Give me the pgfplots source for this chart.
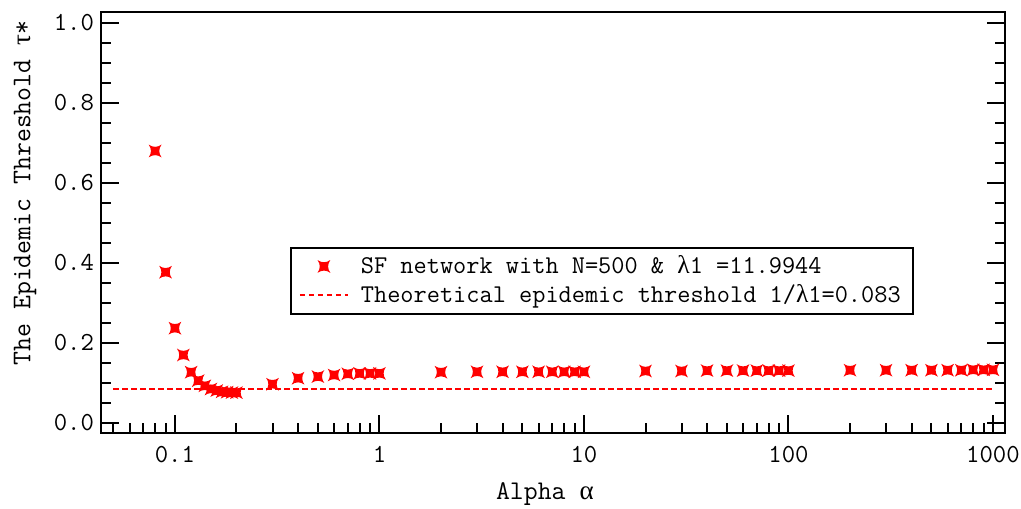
\documentclass[border=0pt]{standalone}
\usepackage{fontspec}
\renewcommand{\familydefault}{\ttdefault}
\newfontfamily\gr{Liberation Serif}
\usepackage{pgfplots}
\pgfplotsset{compat=1.18}
\definecolor{myred}{RGB}{255,0,0}
\pgfdeclareplotmark{cstar}{%
  \pgfpathmoveto{\pgfqpoint{\pgfplotmarksize}{\pgfplotmarksize}}%
  \pgfpathquadraticcurveto{\pgfqpoint{0.3\pgfplotmarksize}{0pt}}{\pgfqpoint{\pgfplotmarksize}{-\pgfplotmarksize}}%
  \pgfpathquadraticcurveto{\pgfqpoint{0pt}{-0.3\pgfplotmarksize}}{\pgfqpoint{-\pgfplotmarksize}{-\pgfplotmarksize}}%
  \pgfpathquadraticcurveto{\pgfqpoint{-0.3\pgfplotmarksize}{0pt}}{\pgfqpoint{-\pgfplotmarksize}{\pgfplotmarksize}}%
  \pgfpathquadraticcurveto{\pgfqpoint{0pt}{0.3\pgfplotmarksize}}{\pgfqpoint{\pgfplotmarksize}{\pgfplotmarksize}}%
  \pgfpathclose
  \pgfusepathqfill
}
\pgfplotsset{
  starleg/.style={legend image code/.code={\path[fill=myred] plot[mark=cstar, mark size=3.2pt, only marks, mark options={fill=myred}] coordinates {(12pt,0pt)};}},
  dashleg/.style={legend image code/.code={\draw[myred, line width=1pt, dash pattern=on 2.75pt off 1.75pt] (0pt,0pt) -- (24pt,0pt);}},
}
\begin{document}
\begin{tikzpicture}
\begin{axis}[
  name=ax,
  at={(0,0)}, anchor=south west,
  xmode=log,
  scale only axis,
  width=452pt, height=210.5pt,
  xmin=0.0435, xmax=1145,
  ymin=-0.025, ymax=1.0275,
  axis line style={line width=1.2pt},
  every tick/.style={line width=1pt, black},
  tick align=inside,
  major tick length=9pt,
  minor tick length=5pt,
  xtick pos=bottom,
  ytick pos=both,
  xtick={0.1,1,10,100,1000},
  xticklabels={0.1,1,10,100,1000},
  minor xtick={0.05,0.06,0.07,0.08,0.09,0.2,0.3,0.4,0.5,0.6,0.7,0.8,0.9,2,3,4,5,6,7,8,9,20,30,40,50,60,70,80,90,200,300,400,500,600,700,800,900},
  ytick={0,0.2,0.4,0.6,0.8,1.0},
  minor ytick={0.05,0.1,0.15,0.25,0.3,0.35,0.45,0.5,0.55,0.65,0.7,0.75,0.85,0.9,0.95},
  yticklabel style={/pgf/number format/.cd, fixed, fixed zerofill, precision=1, assume math mode=true},
  xticklabel style={/pgf/number format/assume math mode=true, yshift=-3pt},
  ticklabel style={font=\fontsize{13}{15}\selectfont},
  xlabel={Alpha {\gr α}},
  ylabel={The Epidemic Threshold {\gr τ}*},
  label style={font=\fontsize{13.5}{15}\selectfont},
  xlabel style={at={(axis description cs:0.491,-0.145)}, anchor=center},
  ylabel style={at={(axis description cs:-0.084,0.57)}, anchor=center},
  legend style={at={(axis description cs:0.209,0.442)}, anchor=north west,
    draw=black, line width=1pt, font=\fontsize{12.8}{14}\selectfont,
    inner xsep=4pt, inner ysep=2pt, row sep=0pt, column sep=4pt},
  legend cell align=left,
]
\addplot[only marks, mark=cstar, mark size=3.2pt, color=myred, starleg]
coordinates {
(0.08,0.680) (0.09,0.377) (0.1,0.237) (0.11,0.170) (0.12,0.127)
(0.13,0.106) (0.14,0.093) (0.15,0.085) (0.16,0.081) (0.17,0.078)
(0.18,0.077) (0.19,0.076) (0.2,0.076)
(0.3,0.097) (0.4,0.112) (0.5,0.116) (0.6,0.120) (0.7,0.123)
(0.8,0.124) (0.9,0.124) (1,0.124)
(2,0.127) (3,0.128) (4,0.128) (5,0.128) (6,0.128) (7,0.128) (8,0.128) (9,0.128) (10,0.128)
(20,0.130) (30,0.130) (40,0.131) (50,0.131) (60,0.131) (70,0.131) (80,0.131) (90,0.131) (100,0.131)
(200,0.132) (300,0.132) (400,0.132) (500,0.132) (600,0.132) (700,0.132) (800,0.133) (900,0.133) (1000,0.133)
};
\addlegendentry{SF network with N=500 \& {\gr λ}1 =11.9944}
\addplot[color=myred, line width=1pt, dash pattern=on 2.75pt off 1.75pt, dashleg]
coordinates {(0.05,0.086) (1000,0.086)};
\addlegendentry{Theoretical epidemic threshold 1/{\gr λ}1=0.083}
\end{axis}
\pgfresetboundingbox
\path ([shift={(-50.5pt,-37.5pt)}]ax.south west) rectangle ([shift={(8pt,6pt)}]ax.north east);
\end{tikzpicture}
\end{document}
